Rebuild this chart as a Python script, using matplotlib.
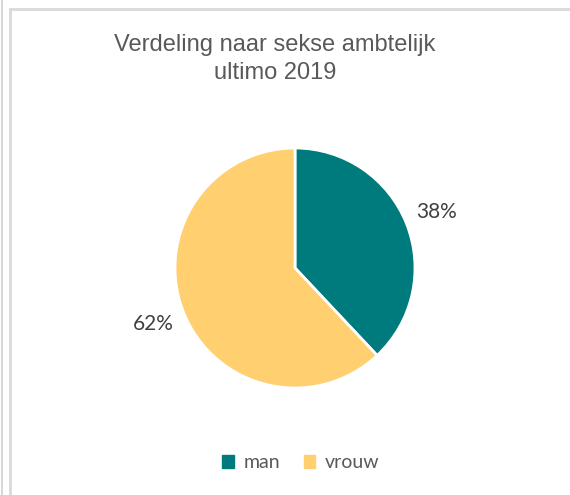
import matplotlib.pyplot as plt
from matplotlib.lines import Line2D

# data
labels = ['man', 'vrouw']
shares = [38, 62]
colors = ['#007B7D', '#FFCF70']
title = 'Verdeling naar sekse ambtelijk\nultimo 2019'

W, H = 570, 495
fig = plt.figure(figsize=(W / 100, H / 100), dpi=100)
fig.patch.set_facecolor('white')

# frame lines like the screenshot
fig.add_artist(Line2D([1.5 / W, 1.5 / W], [0, 1], color='#D0D0D0', lw=1.2))
fig.add_artist(Line2D([9.5 / W, 9.5 / W], [0, 1 - 9 / H], color='#D9D9D9', lw=2))
fig.add_artist(Line2D([9.5 / W, 1], [1 - 9 / H, 1 - 9 / H], color='#D9D9D9', lw=2))

cx, cy, r = 295, 268, 120
ax = fig.add_axes([(cx - r) / W, (H - cy - r) / H, 2 * r / W, 2 * r / H])
wedges, texts, autotexts = ax.pie(shares, colors=colors, startangle=90, counterclock=False,
                                  autopct='%1.0f%%', pctdistance=1.27,
                                  wedgeprops=dict(edgecolor='white', linewidth=2))
for t in autotexts:
    t.set_fontsize(15)
    t.set_color('#404040')
    t.set_fontfamily('Lato')
ax.set_xlim(-1, 1)
ax.set_ylim(-1, 1)

fig.text(cx / W - 20 / W, 1 - 59 / H, title, ha='center', va='center', fontsize=17,
         color='#595959', family='Liberation Sans', linespacing=1.3)

handles = [plt.Rectangle((0, 0), 1, 1, color=c) for c in colors]
leg = fig.legend(handles, labels, loc='center', bbox_to_anchor=(301 / W, 1 - 463 / H),
                 ncol=2, frameon=False, handlelength=0.6, handleheight=0.6,
                 handletextpad=0.5, columnspacing=1.2,
                 prop={'family': 'Lato', 'size': 14})
for t in leg.get_texts():
    t.set_color('#595959')

fig.savefig('out.png', dpi=100)
